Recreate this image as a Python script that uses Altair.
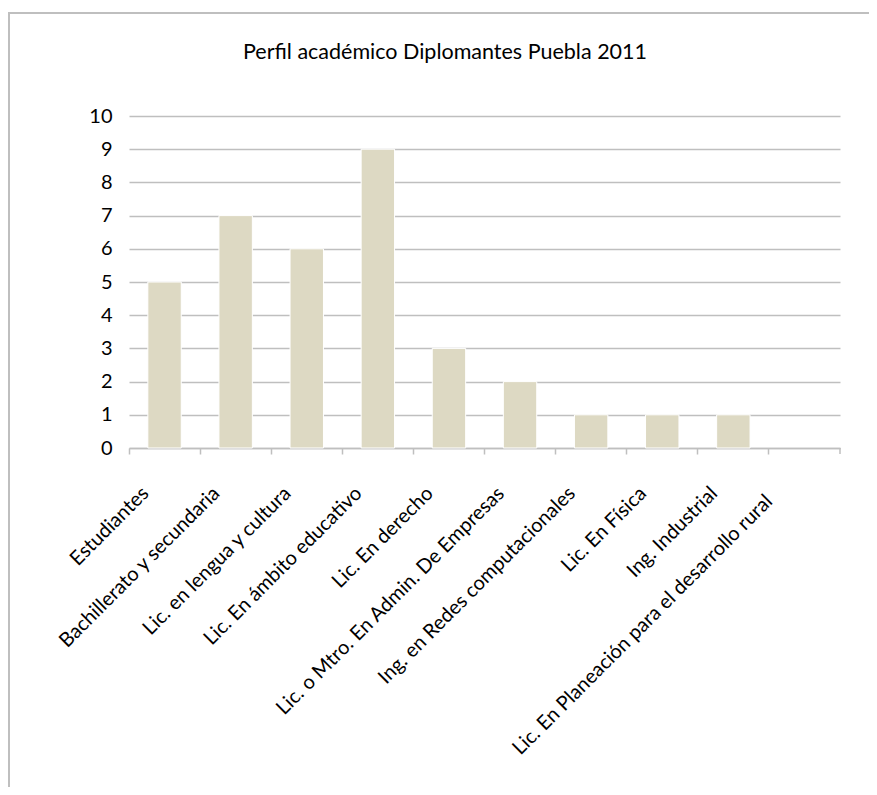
import altair as alt
import pandas as pd

title_text = "Perfil académico Diplomantes Puebla 2011"
categories = [
    "Estudiantes",
    "Bachillerato y secundaria",
    "Lic. en lengua y cultura",
    "Lic. En ámbito educativo",
    "Lic. En derecho",
    "Lic. o Mtro. En Admin. De Empresas",
    "Ing. en Redes computacionales",
    "Lic. En Física",
    "Ing. Industrial",
    "Lic. En Planeación para el desarrollo rural",
]
values = [5, 7, 6, 9, 3, 2, 1, 1, 1, 0]
y_ticks = list(range(0, 11))

df = pd.DataFrame({"cat": categories, "val": values})

FONT = "Lato"
GRID = "#BFBFBF"
last_test = "datum.value === '" + categories[-1] + "'"

x_enc = alt.X(
    "cat:N",
    sort=categories,
    scale=alt.Scale(paddingInner=0, paddingOuter=0),
    axis=alt.Axis(
        title=None,
        bandPosition=0,
        labelAngle=315,
        labelAlign="right",
        labelBaseline="middle",
        labelOffset={"condition": {"test": last_test, "value": -35}, "value": -19},
        labelPadding={"condition": {"test": last_test, "value": 44}, "value": 36},
        labelFont=FONT,
        labelFontSize=20,
        labelColor="#000000",
        labelLimit=0,
        domainColor=GRID,
        domainWidth=1.5,
        tickColor=GRID,
        tickWidth=1.5,
        tickSize=6,
        grid=False,
    ),
)

bars = alt.Chart(df).mark_bar(
    width={"band": 0.47}, color="#DDD9C3", stroke="white", strokeWidth=1
).encode(
    x=x_enc,
    y=alt.Y(
        "val:Q",
        scale=alt.Scale(domain=[0, 10], nice=False),
        axis=alt.Axis(
            title=None,
            values=y_ticks,
            domain=False,
            ticks=False,
            labelPadding=17,
            labelFont=FONT,
            labelFontSize=20,
            labelColor="#000000",
            gridColor=GRID,
            gridWidth=1.5,
        ),
    ),
    strokeOpacity=alt.condition(alt.datum.val > 0, alt.value(1), alt.value(0)),
)

one = pd.DataFrame({"a": [0]})

end_tick = alt.Chart(one).mark_rule(color=GRID, strokeWidth=1.5).encode(
    x=alt.value(711), y=alt.value(332), y2=alt.value(338)
)

border = alt.Chart(one).mark_rect(filled=False, stroke="#BFBFBF", strokeWidth=2).encode(
    x=alt.value(-120), x2=alt.value(900), y=alt.value(-103), y2=alt.value(800)
)

title = alt.Chart(one).mark_text(
    font=FONT, fontSize=21.5, color="#000000", align="center", baseline="alphabetic"
).encode(
    x=alt.value(316), y=alt.value(-57), text=alt.value(title_text)
)

chart = alt.layer(bars, end_tick, border, title).properties(
    width=711,
    height=332,
    padding={"left": 121, "top": 108, "right": 29, "bottom": 339},
    autosize=alt.AutoSizeParams(type="none"),
).configure_view(stroke=None)

chart.save("out.html", embed_options={"renderer": "svg", "actions": False})
